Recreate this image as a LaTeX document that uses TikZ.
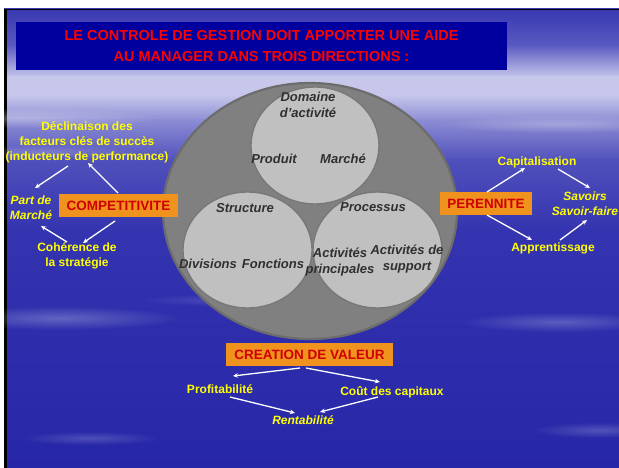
\documentclass[tikz,border=0pt]{standalone}
\usepackage{fontspec}
\setmainfont{Liberation Sans}
\usetikzlibrary{shapes.geometric,arrows.meta,calc,fadings}

\definecolor{bgA}{HTML}{3A3AB2}
\definecolor{bgB}{HTML}{5A5AC2}
\definecolor{bgC}{HTML}{C8C8EC}
\definecolor{bgD}{HTML}{C6C6EC}
\definecolor{bgE}{HTML}{8C8CD4}
\definecolor{bgF}{HTML}{5050BC}
\definecolor{bgG}{HTML}{3434B0}
\definecolor{bgH}{HTML}{2626A8}
\definecolor{titlebox}{HTML}{00009E}
\definecolor{keyorange}{HTML}{F0921E}
\definecolor{keyred}{HTML}{D00000}
\definecolor{lblyellow}{HTML}{FFFF00}
\definecolor{coregray}{HTML}{808080}
\definecolor{coreedge}{HTML}{6C6C6C}
\definecolor{discgray}{HTML}{C0C0C0}
\definecolor{discedge}{HTML}{787878}
\definecolor{disctext}{HTML}{303030}

% soft radial fading for the cloud streaks
\tikzfading[name=softglow, inner color=transparent!0, outer color=transparent!100]

\tikzset{
  band/.style={draw=none},
  streak/.style={fill=white, opacity=#1, path fading=softglow},
  lbl/.style={text=lblyellow, font=\bfseries\fontsize{12}{15}\selectfont, align=center, inner sep=0pt},
  ilbl/.style={lbl, font=\bfseries\itshape\fontsize{12}{15}\selectfont},
  keybox/.style={fill=keyorange, text=keyred, font=\bfseries\fontsize{13.5}{15}\selectfont,
                 minimum height=23pt, inner sep=0pt},
  disc/.style={ellipse, fill=discgray, draw=discedge, line width=1.4pt, inner sep=0pt},
  disclbl/.style={text=disctext, font=\bfseries\itshape\fontsize{13}{16}\selectfont, align=center, inner sep=0pt},
  arr/.style={white, line width=1.3pt, -{Stealth[length=5pt,width=4.5pt]}}
}

\begin{document}
\begin{tikzpicture}[x=1pt,y=-1pt]
\useasboundingbox (0,0) rectangle (619,468);
\fill[white] (0,0) rectangle (619,468);

% slide frame
\fill[black] (4,8) rectangle (619,468);
\draw[bgA, line width=0.8pt] (4,8.4) -- (619,8.4);

% sky background, top to bottom
\shade[band, top color=bgA, bottom color=bgB] (7,11) rectangle (619,46);
\shade[band, top color=bgB, bottom color=bgC] (7,45) rectangle (619,78);
\shade[band, top color=bgC, bottom color=bgD] (7,77) rectangle (619,96);
\shade[band, top color=bgD, bottom color=bgE] (7,95) rectangle (619,121);
\shade[band, top color=bgE, bottom color=bgF] (7,120) rectangle (619,161);
\shade[band, top color=bgF, bottom color=bgG] (7,160) rectangle (619,231);
\shade[band, top color=bgG, bottom color=bgH] (7,230) rectangle (619,468);

% cloud streaks
\fill[streak=0.30] (20,118) ellipse (140 and 10);
\fill[streak=0.25] (560,124) ellipse (120 and 9);
\fill[streak=0.20] (40,152) ellipse (100 and 7);
\fill[streak=0.25] (60,318) ellipse (120 and 12);
\fill[streak=0.22] (560,322) ellipse (100 and 10);
\fill[streak=0.18] (90,438) ellipse (70 and 7);
\fill[streak=0.20] (600,430) ellipse (70 and 8);
\fill[streak=0.14] (230,300) ellipse (90 and 6);

% title
\fill[titlebox] (16,22) rectangle (507,70);
\node[text=red, font=\bfseries\fontsize{14.5}{21}\selectfont, align=center, inner sep=0pt]
  (title) at (261.5,46) {LE CONTROLE DE GESTION DOIT APPORTER UNE AIDE\\AU MANAGER DANS TROIS DIRECTIONS :};

% central diagram
\node[ellipse, fill=coregray, draw=coreedge, line width=2.2pt, minimum width=294pt, minimum height=256pt, inner sep=0pt] (core) at (310,211) {};
\node[disc, minimum width=129pt, minimum height=116pt] (strc) at (247.5,250) {};
\node[disc, minimum width=129pt, minimum height=116pt] (proc) at (377.5,250) {};
\node[disc, minimum width=128pt, minimum height=117pt] (dom) at (315,145.5) {};

\node[disclbl] (domt) at (308,105) {Domaine\\d'activité};
\node[disclbl] (prod) at (274,159) {Produit};
\node[disclbl] (marc) at (343,159) {Marché};
\node[disclbl] (strt) at (245,208) {Structure};
\node[disclbl] (divi) at (208,264) {Divisions};
\node[disclbl] (fonc) at (273,264) {Fonctions};
\node[disclbl] (proct) at (373,207) {Processus};
\node[disclbl] (actp) at (340,262.5) {Activités\\principales};
\node[disclbl] (acts) at (407,259) {Activités de\\support};

% competitiveness
\node[keybox, minimum width=119pt] (comp) at (118.5,205.5) {COMPETITIVITE};
\node[lbl] (decl) at (87,142) {Déclinaison des\\facteurs clés de succès\\(inducteurs de performance)};
\node[ilbl] (part) at (31,208) {Part de\\Marché};
\node[lbl] (coh) at (77,256) {Cohérence de\\la stratégie};

\draw[arr] ($(decl)+(-19,24)$) -- ($(part)+(4,-20)$);
\draw[arr] ($(comp)+(-0.5,-12.5)$) -- ($(decl)+(1,21)$);
\draw[arr] ($(comp)+(-3.5,15.5)$) -- ($(coh)+(6,-13)$);
\draw[arr] ($(coh)+(-10,-14)$) -- ($(part)+(10,18)$);

% durability
\node[keybox, minimum width=92pt] (pere) at (486,203.5) {PERENNITE};
\node[lbl] (capi) at (537,162) {Capitalisation};
\node[ilbl] (savo) at (585,204) {Savoirs\\Savoir-faire};
\node[lbl] (appr) at (553,248) {Apprentissage};

\draw[arr] ($(pere)+(1,-11.5)$) -- ($(capi)+(-12,6)$);
\draw[arr] ($(capi)+(21,7)$) -- ($(savo)+(5,-16)$);
\draw[arr] ($(pere)+(1,11.5)$) -- ($(appr)+(-21,-8)$);
\draw[arr] ($(appr)+(7,-8)$) -- ($(savo)+(2,16)$);

% value creation
\node[keybox, minimum width=167pt] (crea) at (309.5,354.5) {CREATION DE VALEUR};
\node[lbl] (prof) at (220,389) {Profitabilité};
\node[lbl] (cout) at (392,392) {Coût des capitaux};
\node[ilbl] (rent) at (303,420) {Rentabilité};

\draw[arr] ($(crea)+(-9.5,13.5)$) -- ($(prof)+(13,-13)$);
\draw[arr] ($(crea)+(-3.5,13.5)$) -- ($(cout)+(-12,-10)$);
\draw[arr] ($(prof)+(10,8)$) -- ($(rent)+(-8,-7)$);
\draw[arr] ($(cout)+(-14,5)$) -- ($(rent)+(17,-8)$);
\end{tikzpicture}
\end{document}
